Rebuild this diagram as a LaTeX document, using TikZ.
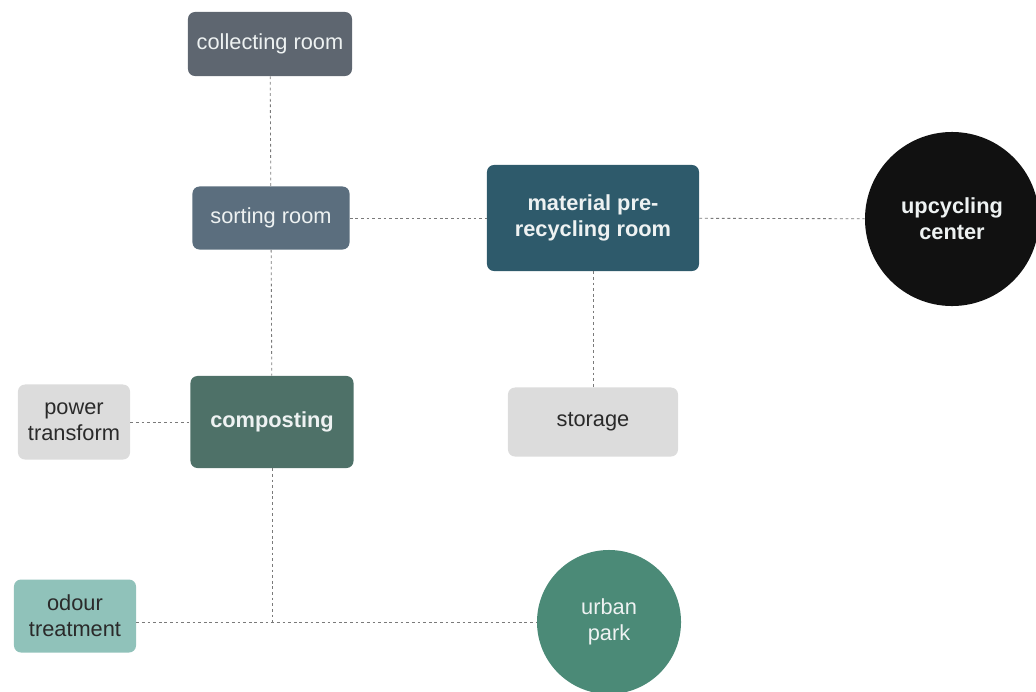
\documentclass[tikz,border=0pt]{standalone}
\usepackage{fontspec}
\setmainfont{Liberation Sans}
\definecolor{slate}{HTML}{5E6670}
\definecolor{steel}{HTML}{5B6E7E}
\definecolor{petrol}{HTML}{2E5A6B}
\definecolor{moss}{HTML}{4E7168}
\definecolor{ash}{HTML}{DCDCDC}
\definecolor{mint}{HTML}{90C2BA}
\definecolor{fern}{HTML}{4B8A77}
\definecolor{coal}{HTML}{111111}
\definecolor{paper}{HTML}{EEF2F2}
\definecolor{ink}{HTML}{2A2A2A}
\definecolor{dashgray}{HTML}{7A7A7A}
\begin{document}
\begin{tikzpicture}
    [x=0.025cm, y=-0.025cm,
    room/.style={rectangle, rounded corners=5pt, fill=#1, text=paper, align=center, inner sep=2pt,
        font=\fontsize{15.5}{18.5}\selectfont},
    pale/.style={room=#1, text=ink},
    hub/.style={circle, fill=#1, text=paper, align=center, inner sep=0pt,
        font=\fontsize{15.5}{18.5}\selectfont},
    link/.style={draw=dashgray, line width=0.6pt, dash pattern=on 2pt off 2pt},
    ]
    \useasboundingbox (0,0) rectangle (1036,691);
    % rooms
    \node[room=slate, minimum width=4.1cm, minimum height=1.6cm] (collect) at (270,44) {collecting room};
    \node[room=steel, minimum width=3.925cm, minimum height=1.575cm] (sort) at (271,218) {sorting room};
    \node[room=petrol, minimum width=5.3cm, minimum height=2.65cm, font=\fontsize{15.5}{18.5}\selectfont\bfseries] (matl) at (593,218) {material pre-\\recycling room};
    \node[room=moss, minimum width=4.075cm, minimum height=2.3cm, font=\fontsize{15.5}{18.5}\selectfont\bfseries] (compost) at (272,422) {composting};
    \node[pale=ash, minimum width=2.8cm, minimum height=1.875cm] (power) at (74,422) {power\\transform};
    \node[pale=ash, minimum width=4.25cm, minimum height=1.725cm] (store) at (593,422) {storage};
    \node[pale=mint, minimum width=3.05cm, minimum height=1.825cm] (odour) at (75,616) {odour\\treatment};
    % round ones
    \node[hub=coal, minimum size=4.35cm, font=\fontsize{15.5}{18.5}\selectfont\bfseries] (upc) at (952,219) {upcycling\\center};
    \node[hub=fern, minimum size=3.6cm] (park) at (609,622) {urban\\park};
    % links
    \coordinate (j) at (compost |- park);
    \draw[link] (collect) -- (sort);
    \draw[link] (sort) -- (compost);
    \draw[link] (sort) -- (matl);
    \draw[link] (matl) -- (upc);
    \draw[link] (matl) -- (store);
    \draw[link] (power) -- (compost);
    \draw[link] (compost) -- (j);
    \draw[link] (odour.east |- park) -- (park);
\end{tikzpicture}
\end{document}
